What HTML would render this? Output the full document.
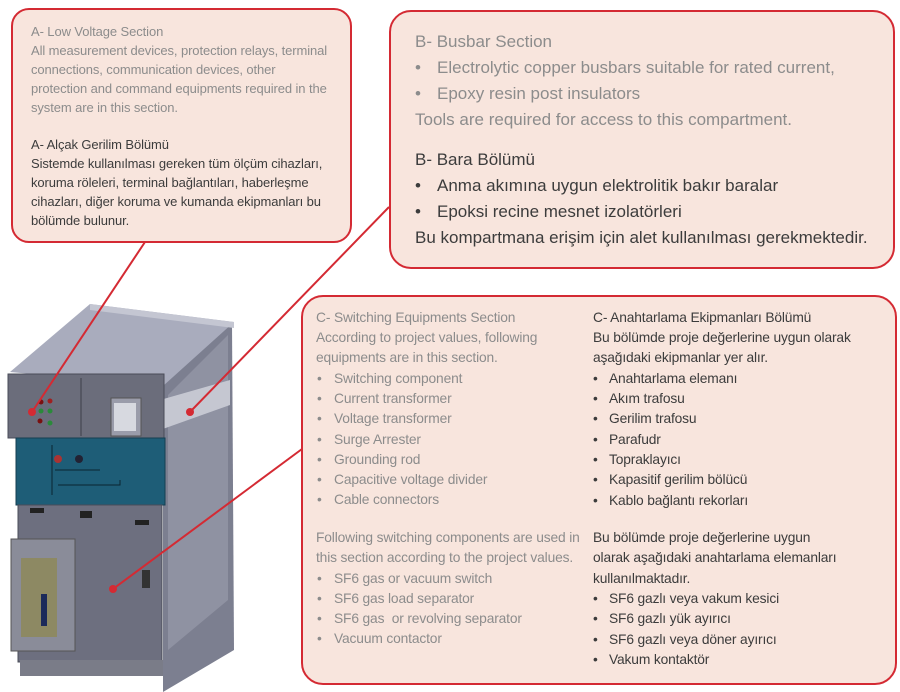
<!DOCTYPE html>
<html><head><meta charset="utf-8"><style>
body{margin:0;width:900px;height:692px;background:#fff;position:relative;overflow:hidden;font-family:"Liberation Sans",sans-serif}
.box{position:absolute;background:#f8e5dd;border:2px solid #d42a33;box-sizing:border-box}
.t{position:absolute;white-space:nowrap;line-height:1}
.a{font-size:13px;letter-spacing:-0.1px}
.b{font-size:17px}
.c{font-size:13.8px;letter-spacing:-0.15px}
.g{color:#8c8c8c}.d{color:#3c3c3c}
svg{position:absolute;left:0;top:0}
</style></head><body>
<svg width="900" height="692">
<polygon points="163,385 232,322 234,650 163,692" fill="#7c7f90"/>
<polygon points="168,395 228,335 228,600 168,650" fill="#8f92a2"/>
<polygon points="160,400 230,380 230,405 160,430" fill="#c5c7d1"/>
<polygon points="10,372 90,304 234,322 163,386" fill="#a9acbd"/>
<polygon points="90,304 234,322 234,328 90,310" fill="#c4c6d2"/>
<rect x="8" y="374" width="156" height="64" fill="#6b6d7b" stroke="#4a4c58"/>
<line x1="81" y1="378" x2="81" y2="436" stroke="#3e4048"/>
<rect x="111" y="398" width="30" height="38" fill="#9a9caa" stroke="#555"/>
<rect x="114" y="403" width="22" height="28" fill="#d7d9e0"/>
<circle cx="41" cy="402" r="2.5" fill="#7a1010"/><circle cx="50" cy="401" r="2.5" fill="#a02020"/>
<circle cx="41" cy="411" r="2.5" fill="#2a8a3a"/><circle cx="50" cy="411" r="2.5" fill="#2a8a3a"/>
<circle cx="40" cy="421" r="2.5" fill="#7a1010"/><circle cx="50" cy="423" r="2.5" fill="#2a8a3a"/>
<rect x="16" y="438" width="149" height="67" fill="#1e5d77" stroke="#153f52"/>
<path d="M52,445 V495 M55,470 H100 M58,485 H120 V480" stroke="#0b2530" fill="none"/>
<circle cx="58" cy="459" r="4" fill="#a33"/><circle cx="79" cy="459" r="4" fill="#223"/>
<rect x="18" y="505" width="144" height="157" fill="#6d6f7f" stroke="#4a4c58"/>
<rect x="30" y="508" width="14" height="5" fill="#222"/><rect x="80" y="511" width="12" height="7" fill="#222"/><rect x="135" y="520" width="14" height="5" fill="#222"/>
<rect x="142" y="570" width="8" height="18" fill="#333"/>
<rect x="11" y="539" width="64" height="112" fill="#8a8c99" stroke="#555"/>
<rect x="21" y="558" width="36" height="79" fill="#8d8963"/>
<rect x="41" y="594" width="6" height="32" fill="#1b2a5a"/>
<rect x="20" y="660" width="143" height="16" fill="#7a7c88"/>
<g stroke="#d42a33" stroke-width="2" fill="none">
<line x1="32" y1="412" x2="145" y2="242"/>
<line x1="190" y1="412" x2="389" y2="207"/>
<line x1="113" y1="589" x2="302" y2="449"/>
</g>
<circle cx="32" cy="412" r="4" fill="#d42a33"/>
<circle cx="190" cy="412" r="4" fill="#d42a33"/>
<circle cx="113" cy="589" r="4" fill="#d42a33"/>
</svg>

<div class="box" style="left:11px;top:8px;width:341px;height:235px;border-radius:18px"></div>
<div class="box" style="left:389px;top:10px;width:506px;height:259px;border-radius:22px;border-width:2.5px"></div>
<div class="box" style="left:301px;top:295px;width:596px;height:390px;border-radius:22px;border-width:2.5px"></div>

<div class="t a g" style="left:31px;top:25px">A- Low Voltage Section</div>
<div class="t a g" style="left:31px;top:44px">All measurement devices, protection relays, terminal</div>
<div class="t a g" style="left:31px;top:63px">connections, communication devices, other</div>
<div class="t a g" style="left:31px;top:82px">protection and command equipments required in the</div>
<div class="t a g" style="left:31px;top:101px">system are in this section.</div>
<div class="t a d" style="left:31px;top:138px">A- Alçak Gerilim Bölümü</div>
<div class="t a d" style="left:31px;top:157px">Sistemde kullanılması gereken tüm ölçüm cihazları,</div>
<div class="t a d" style="left:31px;top:176px">koruma röleleri, terminal bağlantıları, haberleşme</div>
<div class="t a d" style="left:31px;top:195px">cihazları, diğer koruma ve kumanda ekipmanları bu</div>
<div class="t a d" style="left:31px;top:214px">bölümde bulunur.</div>

<div class="t b g" style="left:415px;top:33px">B- Busbar Section</div>
<div class="t b g" style="left:415px;top:59px">•</div><div class="t b g" style="left:437px;top:59px">Electrolytic copper busbars suitable for rated current,</div>
<div class="t b g" style="left:415px;top:85px">•</div><div class="t b g" style="left:437px;top:85px">Epoxy resin post insulators</div>
<div class="t b g" style="left:415px;top:111px">Tools are required for access to this compartment.</div>
<div class="t b d" style="left:415px;top:151px">B- Bara Bölümü</div>
<div class="t b d" style="left:415px;top:177px">•</div><div class="t b d" style="left:437px;top:177px">Anma akımına uygun elektrolitik bakır baralar</div>
<div class="t b d" style="left:415px;top:203px">•</div><div class="t b d" style="left:437px;top:203px">Epoksi recine mesnet izolatörleri</div>
<div class="t b d" style="left:415px;top:229px">Bu kompartmana erişim için alet kullanılması gerekmektedir.</div>

<div class="t c g" style="left:316px;top:311px">C- Switching Equipments Section</div>
<div class="t c g" style="left:316px;top:331px">According to project values, following</div>
<div class="t c g" style="left:316px;top:351px">equipments are in this section.</div>
<div class="t c g" style="left:317px;top:372px">•</div><div class="t c g" style="left:334px;top:372px">Switching component</div>
<div class="t c g" style="left:317px;top:392px">•</div><div class="t c g" style="left:334px;top:392px">Current transformer</div>
<div class="t c g" style="left:317px;top:412px">•</div><div class="t c g" style="left:334px;top:412px">Voltage transformer</div>
<div class="t c g" style="left:317px;top:433px">•</div><div class="t c g" style="left:334px;top:433px">Surge Arrester</div>
<div class="t c g" style="left:317px;top:453px">•</div><div class="t c g" style="left:334px;top:453px">Grounding rod</div>
<div class="t c g" style="left:317px;top:473px">•</div><div class="t c g" style="left:334px;top:473px">Capacitive voltage divider</div>
<div class="t c g" style="left:317px;top:493px">•</div><div class="t c g" style="left:334px;top:493px">Cable connectors</div>
<div class="t c g" style="left:316px;top:531px">Following switching components are used in</div>
<div class="t c g" style="left:316px;top:551px">this section according to the project values.</div>
<div class="t c g" style="left:317px;top:572px">•</div><div class="t c g" style="left:334px;top:572px">SF6 gas or vacuum switch</div>
<div class="t c g" style="left:317px;top:592px">•</div><div class="t c g" style="left:334px;top:592px">SF6 gas load separator</div>
<div class="t c g" style="left:317px;top:612px">•</div><div class="t c g" style="left:334px;top:612px">SF6 gas &nbsp;or revolving separator</div>
<div class="t c g" style="left:317px;top:632px">•</div><div class="t c g" style="left:334px;top:632px">Vacuum contactor</div>

<div class="t c d" style="left:593px;top:311px">C- Anahtarlama Ekipmanları Bölümü</div>
<div class="t c d" style="left:593px;top:331px">Bu bölümde proje değerlerine uygun olarak</div>
<div class="t c d" style="left:593px;top:351px">aşağıdaki ekipmanlar yer alır.</div>
<div class="t c d" style="left:593px;top:372px">•</div><div class="t c d" style="left:609px;top:372px">Anahtarlama elemanı</div>
<div class="t c d" style="left:593px;top:392px">•</div><div class="t c d" style="left:609px;top:392px">Akım trafosu</div>
<div class="t c d" style="left:593px;top:412px">•</div><div class="t c d" style="left:609px;top:412px">Gerilim trafosu</div>
<div class="t c d" style="left:593px;top:433px">•</div><div class="t c d" style="left:609px;top:433px">Parafudr</div>
<div class="t c d" style="left:593px;top:453px">•</div><div class="t c d" style="left:609px;top:453px">Topraklayıcı</div>
<div class="t c d" style="left:593px;top:473px">•</div><div class="t c d" style="left:609px;top:473px">Kapasitif gerilim bölücü</div>
<div class="t c d" style="left:593px;top:494px">•</div><div class="t c d" style="left:609px;top:494px">Kablo bağlantı rekorları</div>
<div class="t c d" style="left:593px;top:531px">Bu bölümde proje değerlerine uygun</div>
<div class="t c d" style="left:593px;top:551px">olarak aşağıdaki anahtarlama elemanları</div>
<div class="t c d" style="left:593px;top:572px">kullanılmaktadır.</div>
<div class="t c d" style="left:593px;top:592px">•</div><div class="t c d" style="left:609px;top:592px">SF6 gazlı veya vakum kesici</div>
<div class="t c d" style="left:593px;top:612px">•</div><div class="t c d" style="left:609px;top:612px">SF6 gazlı yük ayırıcı</div>
<div class="t c d" style="left:593px;top:633px">•</div><div class="t c d" style="left:609px;top:633px">SF6 gazlı veya döner ayırıcı</div>
<div class="t c d" style="left:593px;top:653px">•</div><div class="t c d" style="left:609px;top:653px">Vakum kontaktör</div>
</body></html>
